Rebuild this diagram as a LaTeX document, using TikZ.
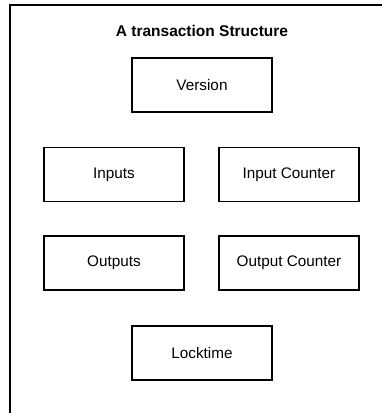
\documentclass[tikz,border=0pt]{standalone}
\usepackage{fontspec}
\setmainfont{Liberation Sans}
\begin{document}
\begin{tikzpicture}[x=1pt,y=-1pt,
  field/.style={draw=black, line width=1.3pt, minimum width=140pt, minimum height=54pt,
    inner sep=0pt, font=\fontsize{15.3}{18}\selectfont},
  frame/.style={draw=black, line width=1.3pt}]
\useasboundingbox (0,0) rectangle (382,413);
% open frame: top and left edges only
\coordinate (fa) at (10,413);
\coordinate (fb) at (10,5);
\coordinate (fc) at (383,5);
\draw[frame] (fa) -- (fb) -- (fc);
\node[font=\bfseries\fontsize{15.5}{18}\selectfont] (title) at (202,31) {A transaction Structure};
\node[field] (version) at (202,85) {Version};
\node[field] (inputs) at (114,174.5) {Inputs};
\node[field] (incount) at (289,174.5) {Input Counter};
\node[field] (outputs) at (114,263) {Outputs};
\node[field] (outcount) at (289,263) {Output Counter};
\node[field] (locktime) at (202,353) {Locktime};
\end{tikzpicture}
\end{document}
